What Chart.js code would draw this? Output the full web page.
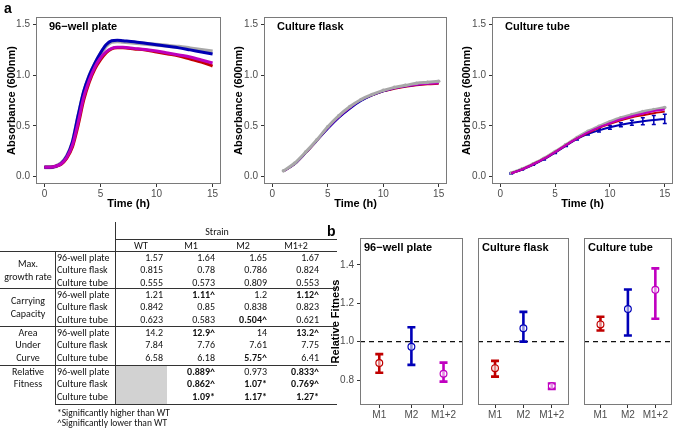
<!DOCTYPE html>
<html>
<head>
<meta charset="utf-8">
<script src="https://cdn.jsdelivr.net/npm/chart.js@4.4.0/dist/chart.umd.min.js"></script>
<style>
body { margin: 0; background: #fff; }
#page { position: relative; width: 677px; height: 434px; overflow: hidden; font-family: Carlito, Lato, "Open Sans", sans-serif; }
canvas { position: absolute; }
.t { position: absolute; white-space: nowrap; line-height: 12px; font-size: 10px; color: #111; }
.hl { position: absolute; height: 1px; background: #333; }
.vl { position: absolute; width: 1px; background: #333; }
.tag { position: absolute; font: bold 14px "Liberation Sans", Arial, sans-serif; line-height: 16px; }
</style>
</head>
<body>
<div id="page">
  <canvas id="cPlate" width="224" height="215" style="left:0;top:0"></canvas>
  <canvas id="cFlask" width="224" height="215" style="left:227px;top:0"></canvas>
  <canvas id="cTube" width="222" height="215" style="left:455px;top:0"></canvas>
  <canvas id="fPlate" width="143" height="206" style="left:325px;top:228px"></canvas>
  <canvas id="fFlask" width="104" height="206" style="left:470px;top:228px"></canvas>
  <canvas id="fTube" width="99" height="206" style="left:578px;top:228px"></canvas>
  <div class="tag" style="left:4px;top:0px">a</div>
  <div class="tag" style="left:327px;top:223px">b</div>
</div>
<script>
// growth curves (a)
var strains = ['WT', 'M1', 'M2', 'M1+2'];
var timeTicks = [0, 5, 10, 15];
var absTicks = [0, 0.5, 1, 1.5];

var plateTimes = [0, 0.5, 1, 1.5, 2, 2.5, 3, 3.5, 4, 4.5, 5, 5.5, 6, 6.5, 7, 8, 9, 10, 11, 12, 13, 14, 15];
var plateWT  = [0.09, 0.09, 0.10, 0.13, 0.20, 0.33, 0.58, 0.82, 0.99, 1.11, 1.21, 1.29, 1.33, 1.335, 1.33, 1.32, 1.31, 1.30, 1.29, 1.28, 1.265, 1.25, 1.235];
var plateM1  = [0.09, 0.09, 0.10, 0.12, 0.18, 0.29, 0.50, 0.75, 0.93, 1.06, 1.15, 1.22, 1.26, 1.27, 1.27, 1.26, 1.25, 1.23, 1.21, 1.19, 1.16, 1.13, 1.09];
var plateM2  = [0.09, 0.09, 0.10, 0.13, 0.20, 0.34, 0.60, 0.84, 1.00, 1.12, 1.22, 1.30, 1.34, 1.345, 1.34, 1.33, 1.315, 1.30, 1.285, 1.27, 1.25, 1.23, 1.21];
var plateM12 = [0.09, 0.09, 0.10, 0.125, 0.19, 0.31, 0.53, 0.78, 0.95, 1.08, 1.17, 1.23, 1.265, 1.275, 1.275, 1.265, 1.255, 1.24, 1.22, 1.20, 1.18, 1.15, 1.12];

var hourTimes = [1, 2, 3, 4, 5, 6, 7, 8, 9, 10, 11, 12, 13, 14, 15];
var flaskWT  = [0.055, 0.13, 0.24, 0.36, 0.49, 0.60, 0.69, 0.76, 0.81, 0.85, 0.88, 0.90, 0.92, 0.93, 0.94];
var flaskM1  = [0.05, 0.12, 0.23, 0.35, 0.475, 0.585, 0.675, 0.75, 0.80, 0.84, 0.865, 0.885, 0.90, 0.91, 0.915];
var flaskM2  = [0.05, 0.12, 0.23, 0.35, 0.47, 0.58, 0.67, 0.745, 0.80, 0.84, 0.87, 0.89, 0.905, 0.92, 0.93];
var flaskM12 = [0.05, 0.125, 0.235, 0.355, 0.48, 0.59, 0.68, 0.755, 0.805, 0.845, 0.87, 0.89, 0.905, 0.915, 0.92];

var tubeWT  = [0.035, 0.075, 0.125, 0.18, 0.245, 0.315, 0.385, 0.445, 0.495, 0.54, 0.58, 0.61, 0.64, 0.66, 0.68];
var tubeM1  = [0.03, 0.07, 0.12, 0.175, 0.24, 0.31, 0.375, 0.43, 0.48, 0.52, 0.555, 0.585, 0.605, 0.625, 0.64];
var tubeM2  = [0.03, 0.068, 0.115, 0.17, 0.235, 0.305, 0.37, 0.42, 0.455, 0.485, 0.51, 0.53, 0.545, 0.558, 0.568];
var tubeM12 = [0.03, 0.07, 0.12, 0.175, 0.24, 0.31, 0.375, 0.435, 0.485, 0.525, 0.565, 0.595, 0.62, 0.645, 0.66];
var tubeM2Err = [0.005, 0.005, 0.005, 0.008, 0.008, 0.01, 0.01, 0.012, 0.015, 0.018, 0.02, 0.025, 0.035, 0.045, 0.045];

// relative fitness (b)
var fitCats = ['M1', 'M2', 'M1+2'];
var fitTicks = [0.8, 1.0, 1.2, 1.4];
var fitPlateMean = [0.889, 0.973, 0.833];
var fitPlateLow  = [0.838, 0.879, 0.792];
var fitPlateHigh = [0.935, 1.075, 0.891];
var fitFlaskMean = [0.862, 1.07, 0.769];
var fitFlaskLow  = [0.818, 1.0, 0.754];
var fitFlaskHigh = [0.900, 1.155, 0.782];
var fitTubeMean = [1.09, 1.17, 1.27];
var fitTubeLow  = [1.058, 1.032, 1.119];
var fitTubeHigh = [1.130, 1.272, 1.382];

// table
var tableGroups = [['Max.', 'growth rate'], ['Carrying', 'Capacity'], ['Area', 'Under', 'Curve'], ['Relative', 'Fitness']];
var tableConditions = ['96-well plate', 'Culture flask', 'Culture tube'];
var tableColumns = ['WT', 'M1', 'M2', 'M1+2'];
var maxGrowthRate = [['1.57', '1.64', '1.65', '1.67'], ['0.815', '0.78', '0.786', '0.824'], ['0.555', '0.573', '0.809', '0.553']];
var carryingCapacity = [['1.21', '1.11^', '1.2', '1.12^'], ['0.842', '0.85', '0.838', '0.823'], ['0.623', '0.583', '0.504^', '0.621']];
var areaUnderCurve = [['14.2', '12.9^', '14', '13.2^'], ['7.84', '7.76', '7.61', '7.75'], ['6.58', '6.18', '5.75^', '6.41']];
var relativeFitness = [['', '0.889^', '0.973', '0.833^'], ['', '0.862^', '1.07*', '0.769^'], ['', '1.09*', '1.17*', '1.27*']];
var footnotes = ['*Significantly higher than WT', '^Significantly lower than WT'];

var strainColors = ['#A8A8A8', '#C40000', '#0000B4', '#BE00BE'];
var fitColors = ['#C00000', '#0000B8', '#C000C0'];

Chart.defaults.font.family = '"Liberation Sans", Arial, sans-serif';

// plugins
var panelTitle = {
    id: 'panelTitle',
    afterDraw: function (chart, args, opts) {
        if (!opts.text) return;
        var ctx = chart.ctx, a = chart.chartArea;
        ctx.save();
        ctx.font = 'bold 11px "Liberation Sans", Arial, sans-serif';
        ctx.fillStyle = '#000';
        ctx.textBaseline = 'middle';
        ctx.fillText(opts.text, a.left + opts.dx, a.top + 10);
        ctx.restore();
    }
};

var panelBox = {
    id: 'panelBox',
    afterDraw: function (chart) {
        var ctx = chart.ctx, a = chart.chartArea;
        ctx.save();
        ctx.strokeStyle = '#7a7a7a';
        ctx.lineWidth = 1;
        ctx.strokeRect(Math.round(a.left) + 0.5, Math.round(a.top) + 0.5, Math.round(a.right - a.left) - 1, Math.round(a.bottom - a.top) - 1);
        ctx.restore();
    }
};

var refLine = {
    id: 'refLine',
    beforeDatasetsDraw: function (chart, args, opts) {
        if (opts.y == null) return;
        var ctx = chart.ctx, a = chart.chartArea;
        var y = chart.scales.y.getPixelForValue(opts.y);
        ctx.save();
        ctx.strokeStyle = '#111';
        ctx.lineWidth = 1.3;
        ctx.setLineDash([5, 4]);
        ctx.beginPath();
        ctx.moveTo(a.left, y);
        ctx.lineTo(a.right, y);
        ctx.stroke();
        ctx.restore();
    }
};

var errorBars = {
    id: 'errorBars',
    beforeDatasetsDraw: function (chart) {
        var ctx = chart.ctx, ys = chart.scales.y;
        chart.data.datasets.forEach(function (ds, i) {
            if (!ds.errLow) return;
            var meta = chart.getDatasetMeta(i);
            meta.data.forEach(function (pt, j) {
                if (ds.errLow[j] == null) return;
                var y0 = ys.getPixelForValue(ds.errLow[j]);
                var y1 = ys.getPixelForValue(ds.errHigh[j]);
                var c = ds.errCap / 2;
                ctx.save();
                ctx.strokeStyle = ds.errColors ? ds.errColors[j] : ds.borderColor;
                ctx.lineWidth = ds.errWidth;
                ctx.beginPath();
                ctx.moveTo(pt.x, y0); ctx.lineTo(pt.x, y1);
                ctx.moveTo(pt.x - c, y0); ctx.lineTo(pt.x + c, y0);
                ctx.moveTo(pt.x - c, y1); ctx.lineTo(pt.x + c, y1);
                ctx.stroke();
                ctx.restore();
            });
        });
    }
};

var tickGrid = { drawOnChartArea: false, drawTicks: true, tickLength: 3, color: '#333', lineWidth: 1 };

function growthChart(id, title, times, values, opt) {
    var datasets = values.map(function (v, k) {
        var ds = {
            label: strains[k],
            data: times.map(function (t, i) { return { x: t, y: v[i] }; }),
            borderColor: strainColors[k],
            backgroundColor: strainColors[k],
            borderWidth: k === 0 ? opt.lw + 1 : opt.lw,
            pointRadius: k === 0 ? opt.wtPoint : 0,
            pointBorderWidth: 0,
            cubicInterpolationMode: 'monotone',
            order: opt.order[k]
        };
        if (opt.err && opt.err[k]) {
            ds.errLow = v.map(function (y, i) { return y - opt.err[k][i]; });
            ds.errHigh = v.map(function (y, i) { return y + opt.err[k][i]; });
            ds.errWidth = 1.5;
            ds.errCap = 4;
        }
        return ds;
    });

    new Chart(document.getElementById(id), {
        type: 'line',
        data: { datasets: datasets },
        plugins: [panelTitle, panelBox, errorBars],
        options: {
            responsive: false,
            animation: false,
            layout: { padding: { top: 17, right: opt.padR, left: 0, bottom: 0 } },
            plugins: {
                legend: { display: false },
                tooltip: { enabled: false },
                panelTitle: { text: title, dx: 13 }
            },
            scales: {
                x: {
                    type: 'linear', min: -0.75, max: 15.75,
                    afterBuildTicks: function (s) { s.ticks = timeTicks.map(function (v) { return { value: v }; }); },
                    afterFit: function (s) { s.height = 31; },
                    grid: tickGrid,
                    border: { display: false },
                    ticks: { color: '#4d4d4d', font: { size: 10 }, padding: 1, maxRotation: 0, autoSkip: false },
                    title: { display: true, text: 'Time (h)', color: '#000', font: { size: 11, weight: 'bold' }, padding: { top: 0, bottom: 4 } }
                },
                y: {
                    min: -0.075, max: 1.575,
                    afterBuildTicks: function (s) { s.ticks = absTicks.map(function (v) { return { value: v }; }); },
                    afterFit: function (s) { s.width = opt.yw; },
                    grid: tickGrid,
                    border: { display: false },
                    ticks: { color: '#4d4d4d', font: { size: 10 }, padding: 3, callback: function (v) { return v.toFixed(1); } },
                    title: { display: true, text: 'Absorbance (600nm)', color: '#000', font: { size: 11, weight: 'bold' }, padding: { top: 5, bottom: 0 } }
                }
            }
        }
    });
}

growthChart('cPlate', '96\u2212well plate', plateTimes, [plateWT, plateM1, plateM2, plateM12],
    { lw: 3, wtPoint: 0, order: [3, 2, 1, 0], padR: 3, yw: 36 });
growthChart('cFlask', 'Culture flask', hourTimes, [flaskWT, flaskM1, flaskM2, flaskM12],
    { lw: 2, wtPoint: 1.8, order: [0, 3, 2, 1], padR: 2, yw: 37 });
growthChart('cTube', 'Culture tube', hourTimes, [tubeWT, tubeM1, tubeM2, tubeM12],
    { lw: 2, wtPoint: 1.8, order: [3, 1, 2, 0], padR: 1, yw: 37, err: [null, null, tubeM2Err, null] });

function fitnessChart(id, title, mean, low, high, opt) {
    new Chart(document.getElementById(id), {
        type: 'scatter',
        data: {
            datasets: [{
                data: mean.map(function (m, i) { return { x: i + 1, y: m }; }),
                pointRadius: 3.4,
                pointBorderWidth: 1.2,
                pointBorderColor: fitColors,
                pointBackgroundColor: 'rgba(255,255,255,0.55)',
                errLow: low, errHigh: high, errColors: fitColors, errWidth: 2.6, errCap: 8
            }]
        },
        plugins: [panelTitle, panelBox, refLine, errorBars],
        options: {
            responsive: false,
            animation: false,
            layout: { padding: { top: 10, right: opt.padR, left: opt.padL, bottom: 0 } },
            plugins: {
                legend: { display: false },
                tooltip: { enabled: false },
                panelTitle: { text: title, dx: 4 },
                refLine: { y: 1 }
            },
            scales: {
                x: {
                    type: 'linear', min: 0.4, max: 3.6,
                    afterBuildTicks: function (s) { s.ticks = fitCats.map(function (c, i) { return { value: i + 1 }; }); },
                    afterFit: function (s) { s.height = 29; },
                    grid: tickGrid,
                    border: { display: false },
                    ticks: { color: '#4d4d4d', font: { size: 10 }, padding: 1, maxRotation: 0, autoSkip: false,
                        callback: function (v) { return fitCats[v - 1]; } }
                },
                y: {
                    display: opt.showY,
                    min: 0.67, max: 1.54,
                    afterBuildTicks: function (s) { s.ticks = fitTicks.map(function (v) { return { value: v }; }); },
                    afterFit: function (s) { s.width = opt.showY ? 35 : 0; },
                    grid: tickGrid,
                    border: { display: false },
                    ticks: { color: '#4d4d4d', font: { size: 10 }, padding: 3, callback: function (v) { return v.toFixed(1); } },
                    title: { display: true, text: 'Relative Fitness', color: '#000', font: { size: 11, weight: 'bold' }, padding: { top: 4, bottom: 0 } }
                }
            }
        }
    });
}

fitnessChart('fPlate', '96\u2212well plate', fitPlateMean, fitPlateLow, fitPlateHigh, { showY: true, padL: 0, padR: 2 });
fitnessChart('fFlask', 'Culture flask', fitFlaskMean, fitFlaskLow, fitFlaskHigh, { showY: false, padL: 8, padR: 3 });
fitnessChart('fTube', 'Culture tube', fitTubeMean, fitTubeLow, fitTubeHigh, { showY: false, padL: 6, padR: 1 });

// summary table
var page = document.getElementById('page');
function txt(s, x, y, align, bold, size) {
    var d = document.createElement('div');
    d.className = 't';
    d.textContent = s;
    d.style.left = x + 'px';
    d.style.top = (y - 6) + 'px';
    if (size) d.style.fontSize = size + 'px';
    if (bold) d.style.fontWeight = 'bold';
    if (align === 'right') d.style.transform = 'translateX(-100%)';
    if (align === 'center') d.style.transform = 'translateX(-50%)';
    page.appendChild(d);
}
function line(cls, x, y, len) {
    var d = document.createElement('div');
    d.className = cls;
    d.style.left = x + 'px';
    d.style.top = y + 'px';
    if (cls === 'hl') d.style.width = len + 'px'; else d.style.height = len + 'px';
    page.appendChild(d);
}

var shade = document.createElement('div');
shade.style.cssText = 'position:absolute;left:116px;top:366px;width:51px;height:38px;background:#d2d2d2';
page.appendChild(shade);

var groupTop = [251, 288, 326, 365];
var rowH = 12.6;
var valRight = [163, 215, 267, 319];
var headCenter = [141, 191, 243, 296];
var labelStart = [0.5, 0.5, 0, 0];
var groupValues = [maxGrowthRate, carryingCapacity, areaUnderCurve, relativeFitness];

txt('Strain', 217, 232, 'center');
tableColumns.forEach(function (c, i) { txt(c, headCenter[i], 246, 'center'); });
line('hl', 115, 239, 222);
line('hl', 0, 251, 337);
line('vl', 115, 222, 182);
line('vl', 55, 251, 153);
groupTop.forEach(function (g, gi) {
    if (gi > 0) line('hl', 0, g, 337);
    tableGroups[gi].forEach(function (s, li) {
        txt(s, 28, g + 6.6 + rowH * (labelStart[gi] + li), 'center');
    });
    tableConditions.forEach(function (c, ri) {
        var y = g + 6.6 + rowH * ri;
        txt(c, 57, y, 'left');
        groupValues[gi][ri].forEach(function (v, ci) {
            if (v) txt(v, valRight[ci], y, 'right', /[\^*]$/.test(v));
        });
    });
});
line('hl', 55, 404, 282);
footnotes.forEach(function (s, i) { txt(s, 57, 413 + 9.5 * i, 'left', false, 9.5); });
</script>
</body>
</html>
